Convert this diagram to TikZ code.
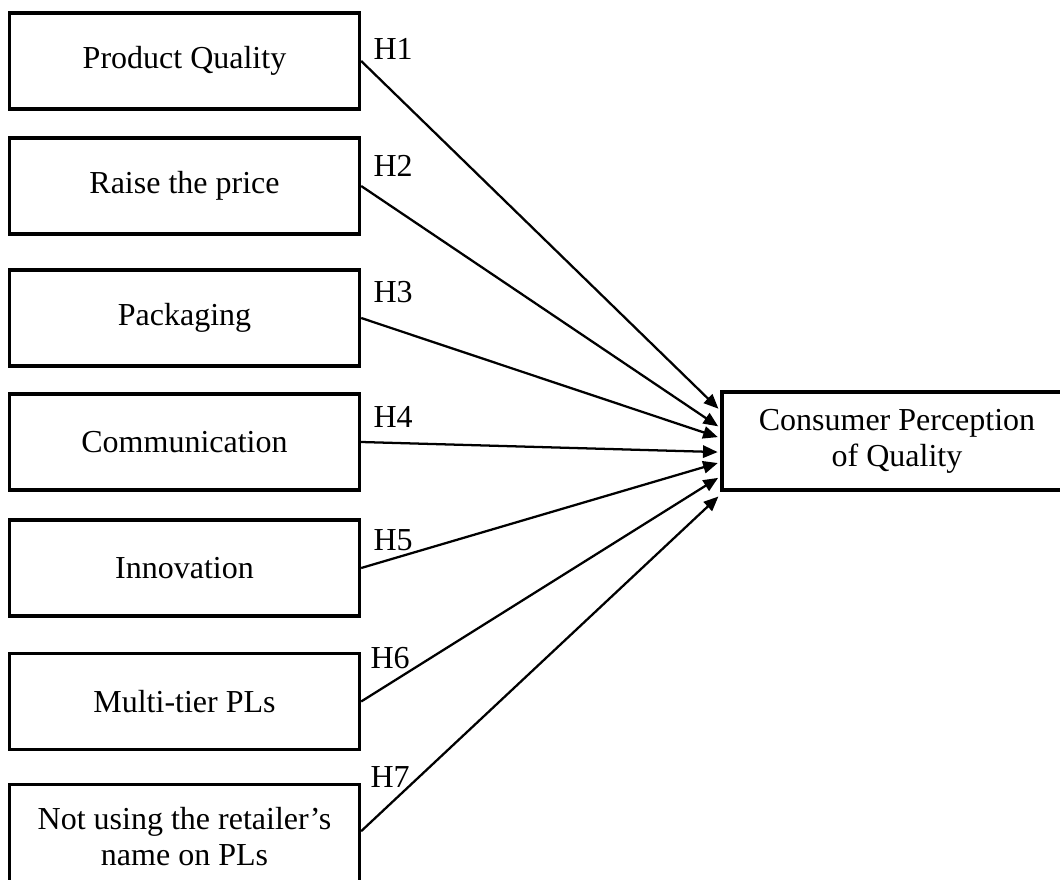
\documentclass[tikz,border=0pt]{standalone}
\usepackage{fontspec}
\setmainfont{Liberation Serif}
\usepackage{tikz}
\usetikzlibrary{arrows.meta,positioning,calc}
\tikzstyle{arrow} = [line width=0.85pt,-{Triangle[length=5.5pt,width=4.6pt]},color=black]
\tikzstyle{factor} = [rectangle, minimum width=131.25pt, minimum height=36pt, text centered, draw=black, line width=1.25pt, font=\fontsize{12}{13.5}\selectfont, align=center]
\tikzstyle{hyp} = [anchor=base west, inner sep=0pt, font=\fontsize{12}{13.5}\selectfont]

\begin{document}
\begin{tikzpicture}[x=0.375pt, y=-0.375pt]
\useasboundingbox (0,0) rectangle (1060,879);

% Factors
\node[factor] (pq) at (184.5,61) {Product Quality};
\node[factor] (price) at (184.5,186) {Raise the price};
\node[factor] (pack) at (184.5,318) {Packaging};
\node[factor] (comm) at (184.5,442) {Communication};
\node[factor] (innov) at (184.5,568) {Innovation};
\node[factor] (tier) at (184.5,701.5) {Multi-tier PLs};
\node[factor, minimum height=39pt] (rname) at (184.5,836.5) {Not using the retailer's\\name on PLs};

% Outcome
\node[factor, minimum width=131.25pt, minimum height=36.75pt] (cpq) at (897,441) {Consumer Perception\\of Quality};

% Hypotheses
\node[hyp] (h1) at (373,60) {H1};
\node[hyp] (h2) at (373,177) {H2};
\node[hyp] (h3) at (373,303) {H3};
\node[hyp] (h4) at (373,427) {H4};
\node[hyp] (h5) at (373,550) {H5};
\node[hyp] (h6) at (370,668) {H6};
\node[hyp] (h7) at (370,787) {H7};

% Arrow ends on the outcome box
\coordinate (e1) at ($(cpq.north west)!0.20!(cpq.south west)$);
\coordinate (e2) at ($(cpq.north west)!0.37!(cpq.south west)$);
\coordinate (e3) at ($(cpq.north west)!0.47!(cpq.south west)$);
\coordinate (e4) at ($(cpq.north west)!0.61!(cpq.south west)$);
\coordinate (e5) at ($(cpq.north west)!0.71!(cpq.south west)$);
\coordinate (e6) at ($(cpq.north west)!0.85!(cpq.south west)$);
\coordinate (e7) at ($(cpq.north west)!1.03!(cpq.south west)$);

% Arrows
\draw[arrow, shorten >=1pt] (pq.east) -- (e1);
\draw[arrow, shorten >=1pt] (price.east) -- (e2);
\draw[arrow, shorten >=1pt] (pack.east) -- (e3);
\draw[arrow, shorten >=1pt] (comm.east) -- (e4);
\draw[arrow, shorten >=1pt] (innov.east) -- (e5);
\draw[arrow, shorten >=1pt] (tier.east) -- (e6);
\draw[arrow, shorten >=1pt] ([yshift=2pt]rname.east) -- (e7);
\end{tikzpicture}
\end{document}
